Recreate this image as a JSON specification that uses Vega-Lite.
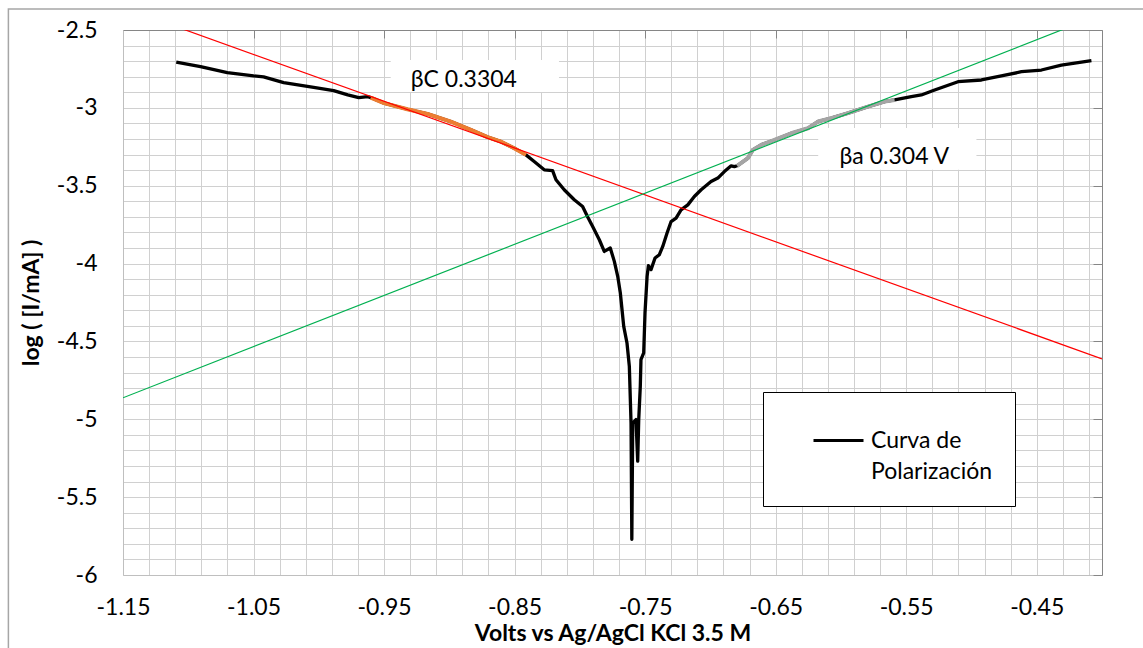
{
  "$schema": "https://vega.github.io/schema/vega-lite/v6.json",
  "width": 979,
  "height": 545,
  "autosize": {"type": "none"},
  "padding": {"left": 123, "top": 30, "right": 41, "bottom": 73},
  "background": "white",
  "config": {"view": {"stroke": null}, "font": "Lato"},
  "datasets": {
    "frame": [{"x1": -1.2378, "x2": -0.3, "y1": -2.365, "y2": -7.0}],
    "boxes": [
      {"x1": -0.9449, "x2": -0.816, "y1": -2.692, "y2": -2.898, "label": "βC 0.3304", "tx": -0.8889, "ty": -2.821},
      {"x1": -0.6174, "x2": -0.4962, "y1": -3.129, "y2": -3.398, "label": "βa 0.304 V", "tx": -0.5591, "ty": -3.315}
    ],
    "curve": [
      {"x": -1.1092, "y": -2.707}, {"x": -1.0906, "y": -2.735}, {"x": -1.0701, "y": -2.774}, {"x": -1.0499, "y": -2.795},
      {"x": -1.0423, "y": -2.801}, {"x": -1.0269, "y": -2.838}, {"x": -1.0039, "y": -2.868}, {"x": -0.9886, "y": -2.889},
      {"x": -0.9778, "y": -2.917}, {"x": -0.9694, "y": -2.934}, {"x": -0.9625, "y": -2.928}, {"x": -0.9602, "y": -2.934},
      {"x": -0.95, "y": -2.97}, {"x": -0.9321, "y": -3.009}, {"x": -0.9167, "y": -3.039}, {"x": -0.8989, "y": -3.088},
      {"x": -0.8835, "y": -3.141}, {"x": -0.8707, "y": -3.188}, {"x": -0.8605, "y": -3.217}, {"x": -0.8503, "y": -3.259},
      {"x": -0.8413, "y": -3.302}, {"x": -0.835, "y": -3.345}, {"x": -0.8273, "y": -3.398}, {"x": -0.8209, "y": -3.403},
      {"x": -0.8183, "y": -3.462}, {"x": -0.812, "y": -3.526}, {"x": -0.8043, "y": -3.59}, {"x": -0.7979, "y": -3.633},
      {"x": -0.794, "y": -3.701}, {"x": -0.7902, "y": -3.762}, {"x": -0.7851, "y": -3.847}, {"x": -0.7813, "y": -3.922},
      {"x": -0.7767, "y": -3.9}, {"x": -0.7736, "y": -3.986}, {"x": -0.771, "y": -4.082}, {"x": -0.769, "y": -4.189},
      {"x": -0.7664, "y": -4.403}, {"x": -0.7639, "y": -4.51}, {"x": -0.7621, "y": -4.66}, {"x": -0.7608, "y": -5.023},
      {"x": -0.7602, "y": -5.771}, {"x": -0.7595, "y": -5.023}, {"x": -0.757, "y": -5.002}, {"x": -0.7557, "y": -5.269},
      {"x": -0.7549, "y": -5.002}, {"x": -0.7537, "y": -4.788}, {"x": -0.7532, "y": -4.617}, {"x": -0.7511, "y": -4.574},
      {"x": -0.7501, "y": -4.317}, {"x": -0.7485, "y": -4.082}, {"x": -0.7475, "y": -4.014}, {"x": -0.7455, "y": -4.039},
      {"x": -0.7424, "y": -3.964}, {"x": -0.7391, "y": -3.943}, {"x": -0.7365, "y": -3.89}, {"x": -0.7332, "y": -3.804},
      {"x": -0.7301, "y": -3.73}, {"x": -0.7263, "y": -3.708}, {"x": -0.7225, "y": -3.655}, {"x": -0.7173, "y": -3.623},
      {"x": -0.7123, "y": -3.569}, {"x": -0.7071, "y": -3.526}, {"x": -0.6995, "y": -3.473}, {"x": -0.6943, "y": -3.451},
      {"x": -0.6893, "y": -3.409}, {"x": -0.6841, "y": -3.372}, {"x": -0.6816, "y": -3.377}, {"x": -0.6795, "y": -3.372},
      {"x": -0.6713, "y": -3.323}, {"x": -0.6675, "y": -3.27}, {"x": -0.6611, "y": -3.238}, {"x": -0.6509, "y": -3.206},
      {"x": -0.6381, "y": -3.163}, {"x": -0.6253, "y": -3.131}, {"x": -0.6176, "y": -3.088}, {"x": -0.6074, "y": -3.066},
      {"x": -0.5946, "y": -3.034}, {"x": -0.5793, "y": -2.992}, {"x": -0.5666, "y": -2.96}, {"x": -0.5589, "y": -2.949},
      {"x": -0.5461, "y": -2.928}, {"x": -0.5384, "y": -2.917}, {"x": -0.5282, "y": -2.885}, {"x": -0.5103, "y": -2.832},
      {"x": -0.4924, "y": -2.821}, {"x": -0.4771, "y": -2.795}, {"x": -0.4617, "y": -2.768}, {"x": -0.4464, "y": -2.757},
      {"x": -0.4311, "y": -2.725}, {"x": -0.4183, "y": -2.71}, {"x": -0.4081, "y": -2.697}
    ],
    "cath": [
      {"x": -0.9602, "y": -2.934}, {"x": -0.95, "y": -2.97}, {"x": -0.9321, "y": -3.009}, {"x": -0.9167, "y": -3.039},
      {"x": -0.8989, "y": -3.088}, {"x": -0.8835, "y": -3.141}, {"x": -0.8707, "y": -3.188}, {"x": -0.8605, "y": -3.217},
      {"x": -0.8503, "y": -3.259}, {"x": -0.8413, "y": -3.302}
    ],
    "anod": [
      {"x": -0.6795, "y": -3.372}, {"x": -0.6713, "y": -3.323}, {"x": -0.6675, "y": -3.27}, {"x": -0.6611, "y": -3.238},
      {"x": -0.6509, "y": -3.206}, {"x": -0.6381, "y": -3.163}, {"x": -0.6253, "y": -3.131}, {"x": -0.6176, "y": -3.088},
      {"x": -0.6074, "y": -3.066}, {"x": -0.5946, "y": -3.034}, {"x": -0.5793, "y": -2.992}, {"x": -0.5666, "y": -2.96},
      {"x": -0.5589, "y": -2.949}
    ],
    "tafel": [
      {"line": "c", "x": -1.15, "y": -2.356}, {"line": "c", "x": -0.4, "y": -4.612},
      {"line": "a", "x": -1.15, "y": -4.862}, {"line": "a", "x": -0.4, "y": -2.398}
    ]
  },
  "resolve": {"axis": {"x": "independent", "y": "independent"}},
  "layer": [
    {
      "data": {"name": "frame"},
      "mark": {"type": "rect", "fill": null, "stroke": "#a6a6a6", "strokeWidth": 1.5},
      "encoding": {
        "x": {"field": "x1", "type": "quantitative", "scale": {"domain": [-1.15, -0.4], "nice": false, "zero": false}, "axis": null},
        "x2": {"field": "x2"},
        "y": {"field": "y1", "type": "quantitative", "scale": {"domain": [-6, -2.5], "nice": false, "zero": false}, "axis": null},
        "y2": {"field": "y2"}
      }
    },
    {
      "data": {"name": "curve"},
      "mark": {"type": "line", "strokeWidth": 3.3, "strokeJoin": "round"},
      "encoding": {
        "x": {
          "field": "x", "type": "quantitative",
          "scale": {"domain": [-1.15, -0.4], "nice": false, "zero": false},
          "axis": {
            "orient": "bottom",
            "title": "Volts vs Ag/AgCl KCl 3.5 M",
            "titleFont": "Lato", "titleFontSize": 23, "titleFontWeight": "bold", "titleColor": "black", "titlePadding": 3,
            "values": [-1.15, -1.13, -1.11, -1.09, -1.07, -1.05, -1.03, -1.01, -0.99, -0.97, -0.95, -0.93, -0.91, -0.89, -0.87, -0.85, -0.83, -0.81, -0.79, -0.77, -0.75, -0.73, -0.71, -0.69, -0.67, -0.65, -0.63, -0.61, -0.59, -0.57, -0.55, -0.53, -0.51, -0.49, -0.47, -0.45, -0.43, -0.41],
            "labelExpr": "abs((datum.value + 1.15) * 10 - round((datum.value + 1.15) * 10)) < 0.001 ? '' + datum.value : ''",
            "labelOverlap": false, "labelFlush": false,
            "labelFont": "Lato", "labelFontSize": 23, "labelColor": "black", "labelPadding": 21,
            "ticks": false,
            "grid": true, "gridColor": "#d0d0d0", "gridWidth": 1,
            "domainColor": "#bfbfbf", "domainWidth": 1
          }
        },
        "y": {
          "field": "y", "type": "quantitative",
          "scale": {"domain": [-6, -2.5], "nice": false, "zero": false},
          "axis": {
            "orient": "left",
            "title": "log ( [I/mA] )",
            "titleFont": "Lato", "titleFontSize": 23, "titleFontWeight": "bold", "titleColor": "black", "titlePadding": 13,
            "values": [-6, -5.9, -5.8, -5.7, -5.6, -5.5, -5.4, -5.3, -5.2, -5.1, -5, -4.9, -4.8, -4.7, -4.6, -4.5, -4.4, -4.3, -4.2, -4.1, -4, -3.9, -3.8, -3.7, -3.6, -3.5, -3.4, -3.3, -3.2, -3.1, -3, -2.9, -2.8, -2.7, -2.6, -2.5],
            "labelExpr": "abs(datum.value * 2 - round(datum.value * 2)) < 0.001 ? '' + round(datum.value * 10) / 10 : ''",
            "labelOverlap": false, "labelFlush": false,
            "labelFont": "Lato", "labelFontSize": 23, "labelColor": "black", "labelPadding": 26,
            "ticks": false,
            "grid": true, "gridColor": "#d0d0d0", "gridWidth": 1,
            "domainColor": "#bfbfbf", "domainWidth": 1
          }
        },
        "color": {
          "datum": "Curva de Polarización",
          "scale": {"range": ["black"]},
          "legend": {
            "orient": "none", "legendX": 640, "legendY": 362,
            "title": null,
            "strokeColor": "black", "fillColor": "white",
            "padding": 22,
            "symbolType": "stroke", "symbolSize": 2500, "symbolStrokeWidth": 3, "symbolStrokeColor": "black",
            "symbolOffset": 27,
            "labelFont": "Lato", "labelFontSize": 23, "labelColor": "black", "labelLimit": 300, "labelOffset": 6,
            "labelExpr": "['Curva de', 'Polarización\u00a0\u00a0\u00a0\u00a0\u00a0']",
            "encode": {"labels": {"update": {"lineHeight": {"value": 31}}}}
          }
        }
      }
    },
    {
      "data": {"name": "cath"},
      "mark": {"type": "line", "color": "#ed7d31", "strokeWidth": 4, "strokeJoin": "round"},
      "encoding": {
        "x": {"field": "x", "type": "quantitative", "scale": {"domain": [-1.15, -0.4], "nice": false, "zero": false}, "axis": null},
        "y": {"field": "y", "type": "quantitative", "scale": {"domain": [-6, -2.5], "nice": false, "zero": false}, "axis": null}
      }
    },
    {
      "data": {"name": "anod"},
      "mark": {"type": "line", "color": "#a5a5a5", "strokeWidth": 4, "strokeJoin": "round"},
      "encoding": {
        "x": {"field": "x", "type": "quantitative", "scale": {"domain": [-1.15, -0.4], "nice": false, "zero": false}, "axis": null},
        "y": {"field": "y", "type": "quantitative", "scale": {"domain": [-6, -2.5], "nice": false, "zero": false}, "axis": null}
      }
    },
    {
      "data": {"name": "tafel"},
      "mark": {"type": "line", "strokeWidth": 1.2, "clip": true},
      "encoding": {
        "x": {
          "field": "x", "type": "quantitative",
          "scale": {"domain": [-1.15, -0.4], "nice": false, "zero": false},
          "axis": {
            "orient": "top", "title": null, "labels": false, "grid": false,
            "values": [-1.15, -1.05, -0.95, -0.85, -0.75, -0.65, -0.55, -0.45],
            "ticks": true, "tickSize": -8, "tickColor": "#868686",
            "domainColor": "#868686", "domainWidth": 1
          }
        },
        "y": {
          "field": "y", "type": "quantitative",
          "scale": {"domain": [-6, -2.5], "nice": false, "zero": false},
          "axis": {
            "orient": "right", "title": null, "labels": false, "grid": false,
            "values": [-6, -5.5, -5, -4.5, -4, -3.5, -3, -2.5],
            "ticks": true, "tickSize": -9, "tickColor": "#868686",
            "domainColor": "#868686", "domainWidth": 1
          }
        },
        "detail": {"field": "line"},
        "stroke": {"field": "line", "type": "nominal", "scale": {"domain": ["c", "a"], "range": ["#ff0000", "#00b050"]}, "legend": null}
      }
    },
    {
      "data": {"name": "boxes"},
      "mark": {"type": "rect", "fill": "white", "stroke": null},
      "encoding": {
        "x": {"field": "x1", "type": "quantitative", "scale": {"domain": [-1.15, -0.4], "nice": false, "zero": false}, "axis": null},
        "x2": {"field": "x2"},
        "y": {"field": "y1", "type": "quantitative", "scale": {"domain": [-6, -2.5], "nice": false, "zero": false}, "axis": null},
        "y2": {"field": "y2"}
      }
    },
    {
      "data": {"name": "boxes"},
      "mark": {"type": "text", "font": "Lato", "fontSize": 23, "color": "black", "align": "center", "baseline": "middle"},
      "encoding": {
        "x": {"field": "tx", "type": "quantitative", "scale": {"domain": [-1.15, -0.4], "nice": false, "zero": false}, "axis": null},
        "y": {"field": "ty", "type": "quantitative", "scale": {"domain": [-6, -2.5], "nice": false, "zero": false}, "axis": null},
        "text": {"field": "label"}
      }
    }
  ]
}
